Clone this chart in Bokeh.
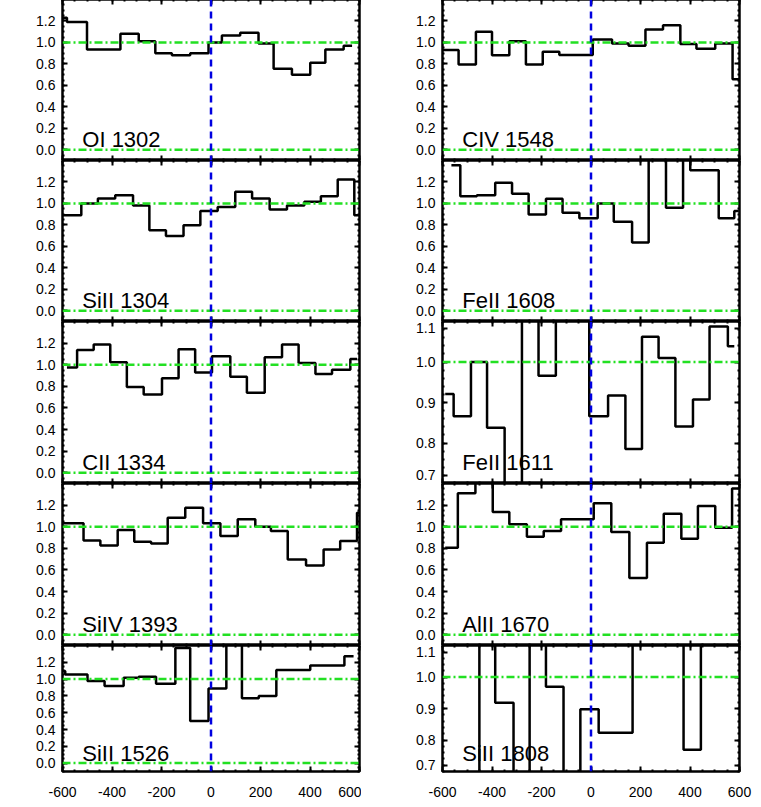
from bokeh.plotting import figure
from bokeh.layouts import column, row
from bokeh.models import (Span, Label, FixedTicker, LinearAxis, PrintfTickFormatter, Range1d,
                          CustomLabelingPolicy)
from bokeh.embed import file_html
from bokeh.resources import INLINE

# ---------------- data (velocity bin edges in km/s, normalised flux per bin) -------------
oi1302_vel = [-610, -582, -501, -366, -292, -225, -158, -84, -10, 44, 118, 192, 253, 327, 401, 462, 536, 570]
oi1302_flux = [1.23, 1.19, 0.935, 1.08, 1.01, 0.90, 0.88, 0.90, 1.0, 1.065, 1.09, 0.99, 0.755, 0.70, 0.81, 0.935, 0.97]

siii1304_vel = [-610, -524, -457, -387, -315, -249, -182, -111, -43, 27, 98, 166, 237, 307, 377, 444, 512, 579, 620]
siii1304_flux = [0.889, 1.0, 1.046, 1.077, 0.981, 0.749, 0.697, 0.796, 0.929, 0.966, 1.108, 1.046, 0.944, 0.981, 1.015, 1.068, 1.223, 0.889]

cii1334_vel = [-582, -541, -474, -407, -340, -272, -198, -131, -64, 4, 78, 145, 217, 287, 354, 422, 489, 563, 590]
cii1334_flux = [0.975, 1.137, 1.187, 1.022, 0.794, 0.723, 0.875, 1.143, 0.928, 1.078, 0.888, 0.741, 1.069, 1.187, 1.016, 0.913, 0.953, 1.053]

siiv1393_vel = [-610, -515, -447, -377, -310, -242, -175, -104, -32, 38, 108, 179, 242, 310, 384, 455, 522, 590, 610]
siiv1393_flux = [1.031, 0.873, 0.827, 0.969, 0.861, 0.845, 1.084, 1.176, 1.031, 0.913, 1.068, 1.0, 0.96, 0.697, 0.641, 0.789, 0.867, 1.13]

siii1526_vel = [-610, -589, -499, -430, -353, -292, -222, -144, -84, -10, 62, 125, 193, 264, 401, 539, 576]
siii1526_flux = [1.095, 1.055, 0.976, 0.917, 1.016, 1.028, 0.945, 1.37, 0.502, 0.889, 1.6, 0.771, 0.798, 1.107, 1.162, 1.273]

civ1548_vel = [-610, -535, -465, -400, -330, -263, -195, -128, 7, 85, 152, 220, 291, 361, 426, 502, 572, 620]
civ1548_flux = [0.93, 0.795, 1.10, 0.88, 1.01, 0.795, 0.913, 0.882, 1.028, 0.99, 0.97, 1.12, 1.16, 0.985, 0.94, 0.99, 0.656]

feii1608_vel = [-564, -528, -461, -387, -319, -252, -182, -115, -47, 27, 92, 166, 233, 303, 372, 401, 516, 579, 597]
feii1608_flux = [1.356, 1.068, 1.077, 1.192, 1.09, 0.898, 1.043, 0.913, 0.861, 1.0, 0.83, 0.635, 1.6, 0.96, 1.6, 1.31, 0.861, 0.93]

feii1611_vel = [-589, -555, -485, -420, -349, -279, -212, -142, -7, 69, 139, 206, 273, 341, 412, 479, 553, 579]
feii1611_flux = [0.921, 0.866, 1.0, 0.8375, 0.60, 1.20, 0.966, 1.20, 0.866, 0.917, 0.785, 1.0625, 1.01, 0.841, 0.9075, 1.0875, 1.039]

alii1670_vel = [-589, -538, -467, -397, -330, -259, -191, -121, 11, 82, 155, 226, 294, 365, 432, 502, 570, 597]
alii1670_flux = [0.805, 1.31, 1.45, 1.136, 1.022, 0.907, 0.96, 1.068, 1.217, 0.95, 0.526, 0.851, 1.121, 0.889, 1.192, 0.991, 1.353]

siii1808_vel = [-610, -451, -387, -313, -248, -182, -111, -43, 31, 168, 374, 444, 610]
siii1808_flux = [0.6, 1.2, 0.918, 0.6, 1.2, 0.969, 0.6, 0.898, 0.823, 1.2, 0.769, 1.2]

left_labels = ["OI 1302", "SiII 1304", "CII 1334", "SiIV 1393", "SiII 1526"]
right_labels = ["CIV 1548", "FeII 1608", "FeII 1611", "AlII 1670", "SiII 1808"]

x_ticks = [-600, -400, -200, 0, 200, 400, 600]
y_ticks_full = [0.0, 0.2, 0.4, 0.6, 0.8, 1.0, 1.2]
# edge labels of the zoomed panels sit slightly inside the frame
y_ticks_zoom_r3 = [0.72, 0.8, 0.9, 1.0, 1.083]
y_ticks_zoom_r5 = [0.72, 0.8, 0.9, 1.0, 1.079]
full_range = (-0.1, 1.4)
zoom_range = (0.7, 1.1)

# ---------------- style -------------------------------------------------------------------
FONT = "Liberation Sans"
GREEN = "#22e022"
BLUE = "#0000e0"
ROW_H = [161, 161, 162, 162, 126]
LABEL_OFF = [21.0, 21.0, 21.2, 21.0, 17.8]   # label baseline above frame bottom (px)
FRAME_W = 297

x_minor = [-600 + 50 * i for i in range(25)]
y_minor_full = [round(-0.1 + 0.05 * i, 3) for i in range(31)]
y_minor_zoom = [round(0.7 + 0.02 * i, 3) for i in range(21)]

HIDE = "for (const i of indices) { indices.unset(i) }\nreturn indices"


def style_axis(ax, labels):
    ax.axis_line_color = None
    ax.major_tick_in = 5
    ax.major_tick_out = 0
    ax.minor_tick_in = 2
    ax.minor_tick_out = 0
    ax.major_tick_line_width = 2
    ax.minor_tick_line_width = 2
    ax.major_tick_line_color = "black"
    ax.minor_tick_line_color = "black"
    if labels:
        ax.major_label_text_font = FONT
        ax.major_label_text_font_size = "14px"
        ax.major_label_text_color = "black"
    else:
        ax.major_label_text_font_size = "0px"
        ax.major_label_standoff = 0
        ax.major_label_policy = CustomLabelingPolicy(code=HIDE)


def make_panel(label, vel, flux, yr, yt, ymin, col, r):
    last = (r == 4)
    p = figure(frame_width=FRAME_W, frame_height=ROW_H[r],
               x_range=Range1d(-600, 600), y_range=Range1d(*yr),
               output_backend="svg", toolbar_location=None,
               min_border=0,
               min_border_left=62 if col == 0 else 81,
               min_border_right=2 if col == 0 else 14,
               min_border_top=0,
               min_border_bottom=34 if last else 0)
    p.grid.visible = False
    p.background_fill_color = "white"
    p.border_fill_color = "white"
    p.outline_line_color = "black"
    p.outline_line_width = 2.5

    p.xaxis.ticker = FixedTicker(ticks=x_ticks, minor_ticks=x_minor)
    p.xaxis.formatter = PrintfTickFormatter(format="%d")
    style_axis(p.xaxis[0], last)
    if last:
        p.xaxis.major_label_standoff = 15
    p.yaxis.ticker = FixedTicker(ticks=yt, minor_ticks=ymin)
    p.yaxis.formatter = PrintfTickFormatter(format="%.1f")
    style_axis(p.yaxis[0], True)
    p.yaxis.major_label_standoff = 7

    top = LinearAxis(ticker=FixedTicker(ticks=x_ticks, minor_ticks=x_minor))
    style_axis(top, False)
    p.add_layout(top, "above")
    right = LinearAxis(ticker=FixedTicker(ticks=yt, minor_ticks=ymin))
    style_axis(right, False)
    p.add_layout(right, "right")

    p.step(x=vel, y=flux + [flux[-1]], mode="after", line_color="black", line_width=2.5)

    for lvl in (0.0, 1.0):
        p.add_layout(Span(location=lvl, dimension="width", line_color=GREEN,
                          line_width=2.5, line_dash="8 3 2 3"))
    p.add_layout(Span(location=0, dimension="height", line_color=BLUE,
                      line_width=2.5, line_dash="7 5"))

    y_lab = yr[0] + LABEL_OFF[r] * (yr[1] - yr[0]) / ROW_H[r]
    p.add_layout(Label(x=-520, y=y_lab, text=label, text_font=FONT,
                       text_font_size="22px", text_color="black",
                       text_align="left", text_baseline="alphabetic"))
    return p


left_data = [(oi1302_vel, oi1302_flux), (siii1304_vel, siii1304_flux), (cii1334_vel, cii1334_flux),
             (siiv1393_vel, siiv1393_flux), (siii1526_vel, siii1526_flux)]
right_data = [(civ1548_vel, civ1548_flux), (feii1608_vel, feii1608_flux), (feii1611_vel, feii1611_flux),
              (alii1670_vel, alii1670_flux), (siii1808_vel, siii1808_flux)]
right_ticks = [None, None, y_ticks_zoom_r3, None, y_ticks_zoom_r5]

rows = []
for r in range(5):
    lv, lf = left_data[r]
    pl = make_panel(left_labels[r], lv, lf, full_range, y_ticks_full, y_minor_full, 0, r)
    rv, rf = right_data[r]
    if right_ticks[r] is not None:
        pr = make_panel(right_labels[r], rv, rf, zoom_range, right_ticks[r], y_minor_zoom, 1, r)
    else:
        pr = make_panel(right_labels[r], rv, rf, full_range, y_ticks_full, y_minor_full, 1, r)
    rows.append(row(pl, pr, spacing=0))

layout = column(*rows, spacing=0, styles={"margin-top": "-1px"})

open("out.html", "w").write(file_html(layout, INLINE))
